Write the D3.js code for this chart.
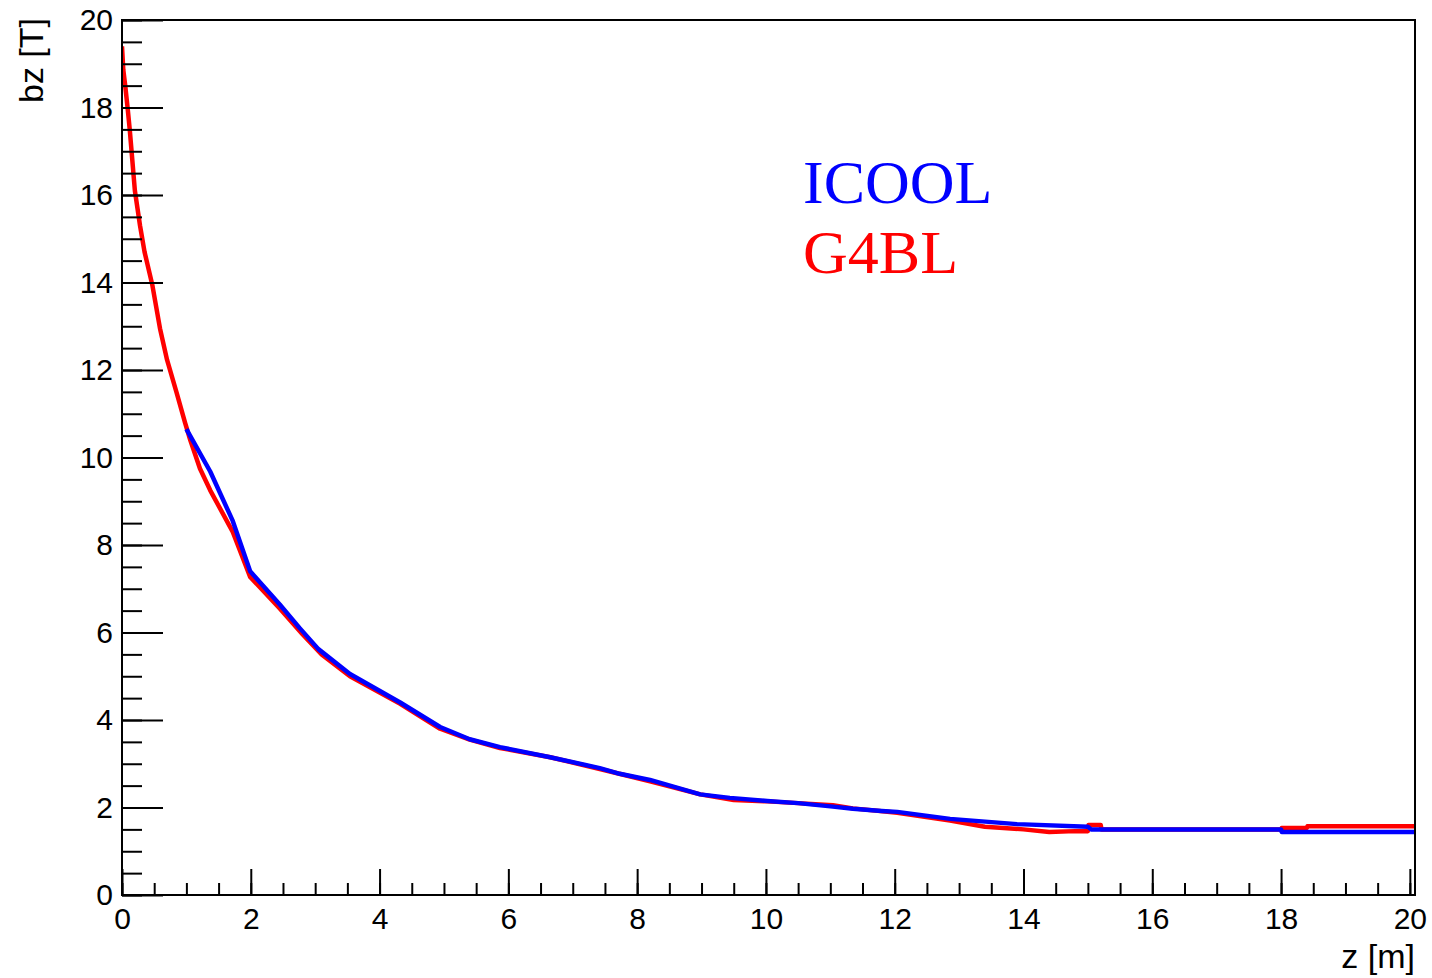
<!DOCTYPE html>
<html>
<head>
<meta charset="utf-8">
<script src="https://cdn.jsdelivr.net/npm/d3@7"></script>
<style>
  body { margin: 0; background: #fff; }
</style>
</head>
<body>
<div id="plot"></div>
<script>
var width = 1432;
var height = 978;

// G4BL (red)
var g4blZ = [0, 0.02, 0.05, 0.09, 0.12, 0.16, 0.2, 0.28, 0.35, 0.47, 0.59, 0.7, 0.85, 0.98, 1.06, 1.21, 1.37, 1.72, 1.99, 2.45, 2.81, 3.1, 3.54, 4.32, 4.94, 5.4, 5.87, 6.65, 7.42, 8.2, 8.98, 9.5, 10.02, 10.5, 11.04, 11.35, 12.04, 12.86, 13.4, 14.0, 14.4, 14.8, 15.0, 15.01, 15.2, 15.21, 18.0, 18.01, 18.4, 18.41, 20.08];
var g4blBz = [19.4, 18.86, 18.5, 17.95, 17.5, 16.8, 16.1, 15.3, 14.7, 13.95, 12.95, 12.23, 11.47, 10.79, 10.4, 9.75, 9.25, 8.3, 7.27, 6.55, 5.95, 5.5, 5.0, 4.37, 3.8, 3.55, 3.36, 3.15, 2.88, 2.6, 2.3, 2.17, 2.14, 2.1, 2.05, 1.98, 1.88, 1.7, 1.56, 1.5, 1.44, 1.46, 1.46, 1.6, 1.6, 1.5, 1.5, 1.53, 1.53, 1.57, 1.57];

// ICOOL (blue)
var icoolZ = [1.0, 1.37, 1.72, 1.99, 2.45, 2.76, 3.05, 3.54, 4.32, 4.94, 5.4, 5.87, 6.65, 7.42, 7.73, 8.2, 8.98, 9.44, 10.02, 10.5, 11.04, 11.35, 11.8, 12.04, 12.86, 13.9, 15.0, 15.05, 18.0, 18.01, 20.08];
var icoolBz = [10.65, 9.68, 8.55, 7.4, 6.64, 6.1, 5.62, 5.05, 4.4, 3.84, 3.56, 3.38, 3.15, 2.9, 2.77, 2.63, 2.3, 2.22, 2.15, 2.1, 2.02, 1.97, 1.92, 1.9, 1.74, 1.62, 1.56, 1.5, 1.5, 1.44, 1.44];

var xTicks = [0, 2, 4, 6, 8, 10, 12, 14, 16, 18, 20];
var yTicks = [0, 2, 4, 6, 8, 10, 12, 14, 16, 18, 20];
var legendNames = ['ICOOL', 'G4BL'];
var legendColors = ['#0000ff', '#ff0000'];

var padLeft = 122, padTop = 20, padRight = 1415, padBottom = 895;

var svg = d3.select('#plot').append('svg')
    .attr('width', width)
    .attr('height', height);

var x = d3.scaleLinear().domain([0, 20.08]).range([padLeft, padRight]);
var y = d3.scaleLinear().domain([0, 20]).range([padBottom, padTop]);

svg.append('clipPath').attr('id', 'clip')
  .append('rect')
    .attr('x', padLeft).attr('y', padTop)
    .attr('width', padRight - padLeft).attr('height', padBottom - padTop);

function curve(zs, bs, color) {
  var pts = zs.map(function (z, i) { return [z, bs[i]]; });
  var line = d3.line()
      .x(function (d) { return x(d[0]); })
      .y(function (d) { return y(d[1]); });
  svg.append('path')
      .datum(pts)
      .attr('clip-path', 'url(#clip)')
      .attr('d', line)
      .attr('fill', 'none')
      .attr('stroke', color)
      .attr('stroke-width', 4.5)
      .attr('stroke-linejoin', 'round');
}

curve(g4blZ, g4blBz, '#ff0000');
curve(icoolZ, icoolBz, '#0000ff');

// minor ticks
svg.append('g')
    .attr('transform', 'translate(0,' + padBottom + ')')
    .call(d3.axisBottom(x).tickValues(d3.range(0, 20.01, 0.5)).tickSizeInner(-12).tickSizeOuter(0).tickFormat(''))
    .call(function (g) { g.select('.domain').remove(); });
svg.append('g')
    .attr('transform', 'translate(' + padLeft + ',0)')
    .call(d3.axisLeft(y).tickValues(d3.range(0, 20.01, 0.5)).tickSizeInner(-20).tickSizeOuter(0).tickFormat(''))
    .call(function (g) { g.select('.domain').remove(); });

// major ticks + labels
var xAxis = svg.append('g')
    .attr('transform', 'translate(0,' + padBottom + ')')
    .call(d3.axisBottom(x).tickValues(xTicks).tickSizeInner(-26).tickSizeOuter(0).tickPadding(13).tickFormat(d3.format('d')));
xAxis.select('.domain').remove();

var yAxis = svg.append('g')
    .attr('transform', 'translate(' + padLeft + ',0)')
    .call(d3.axisLeft(y).tickValues(yTicks).tickSizeInner(-41).tickSizeOuter(0).tickPadding(9).tickFormat(d3.format('d')));
yAxis.select('.domain').remove();

svg.selectAll('.tick line').attr('stroke', '#000').attr('stroke-width', 2);
svg.selectAll('.tick text')
    .attr('fill', '#000')
    .style('font-family', '"Liberation Sans", Arial, sans-serif')
    .style('font-size', '30px');

// frame
svg.append('rect')
    .attr('x', padLeft).attr('y', padTop)
    .attr('width', padRight - padLeft).attr('height', padBottom - padTop)
    .attr('fill', 'none')
    .attr('stroke', '#000')
    .attr('stroke-width', 2);

// axis titles
svg.append('text')
    .attr('x', padRight).attr('y', 968)
    .attr('text-anchor', 'end')
    .style('font-family', '"Liberation Sans", Arial, sans-serif')
    .style('font-size', '34px')
    .text('z [m]');

svg.append('text')
    .attr('transform', 'translate(43,18) rotate(-90)')
    .attr('text-anchor', 'end')
    .style('font-family', '"Liberation Sans", Arial, sans-serif')
    .style('font-size', '34px')
    .text('bz [T]');

// legend text
for (var i = 0; i < legendNames.length; i++) {
  svg.append('text')
      .attr('x', 803).attr('y', 203 + i * 70)
      .attr('fill', legendColors[i])
      .style('font-family', '"Liberation Serif", "Times New Roman", serif')
      .style('font-size', '62px')
      .text(legendNames[i]);
}
</script>
</body>
</html>
